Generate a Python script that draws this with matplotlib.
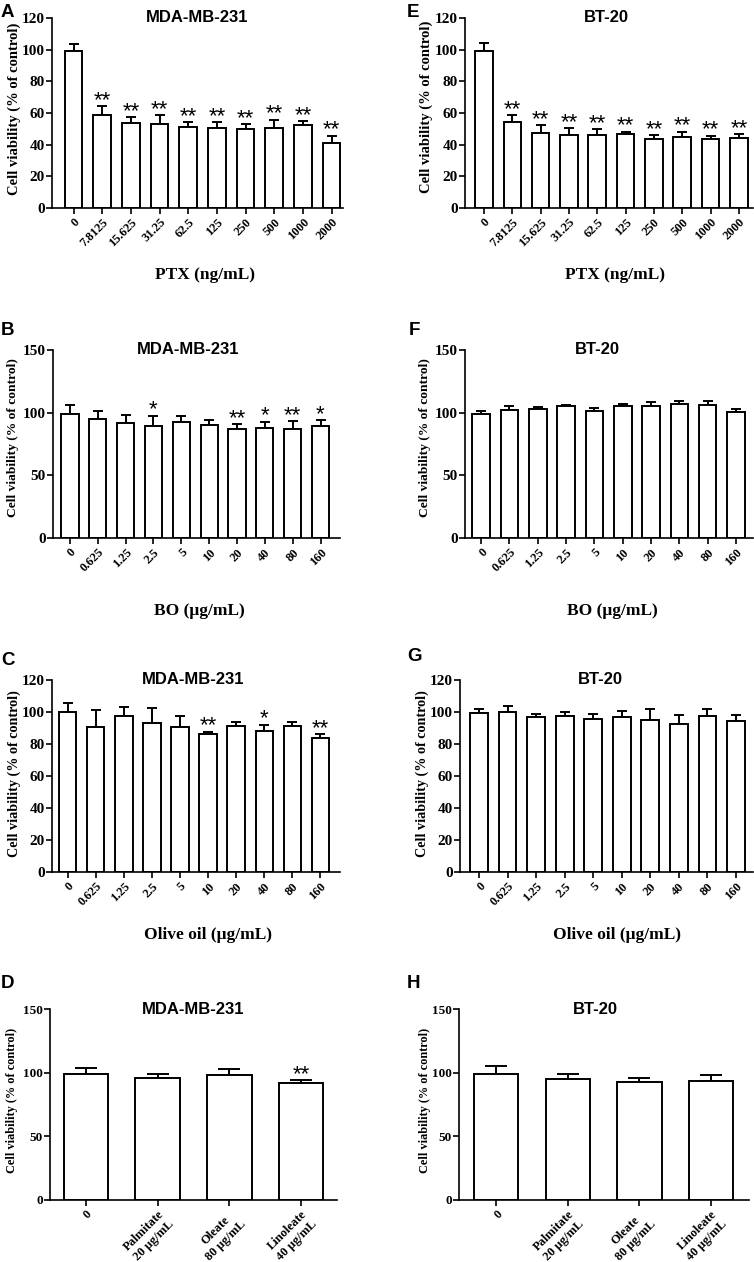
import matplotlib.pyplot as plt
import numpy as np

plt.rcParams['font.family'] = ['Liberation Serif', 'DejaVu Serif']
plt.rcParams['font.weight'] = 'bold'
plt.rcParams['axes.labelweight'] = 'bold'
plt.rcParams['axes.linewidth'] = 1.2

# --- data ---
ptx_doses = ['0', '7.8125', '15.625', '31.25', '62.5', '125', '250', '500', '1000', '2000']
oil_doses = ['0', '0.625', '1.25', '2.5', '5', '10', '20', '40', '80', '160']
fa_labels = ['0', 'Palmitate\n20 μg/mL', 'Oleate\n80 μg/mL', 'Linoleate\n40 μg/mL']

# A: MDA-MB-231, PTX
a_mean = [99.4, 58.5, 53.7, 53.3, 51.2, 50.5, 49.9, 50.7, 52.2, 41.0]
a_err = [4.2, 6.1, 3.6, 5.6, 3.3, 4.0, 3.2, 5.1, 2.7, 4.7]
a_sig = ['', '**', '**', '**', '**', '**', '**', '**', '**', '**']
# E: BT-20, PTX
e_mean = [99.4, 54.1, 47.4, 45.9, 46.3, 46.9, 43.6, 44.8, 43.8, 44.2]
e_err = [4.8, 4.4, 5.0, 4.8, 3.6, 1.3, 2.7, 3.4, 1.9, 2.7]
e_sig = ['', '**', '**', '**', '**', '**', '**', '**', '**', '**']
# B: MDA-MB-231, BO
b_mean = [99.3, 95.0, 91.9, 89.5, 92.4, 90.3, 87.1, 88.1, 87.3, 89.5]
b_err = [6.9, 6.7, 6.1, 8.2, 4.8, 3.7, 3.7, 4.8, 6.1, 4.5]
b_sig = ['', '', '', '*', '', '', '**', '*', '**', '*']
# F: BT-20, BO
f_mean = [99.0, 101.9, 103.0, 105.4, 101.7, 105.1, 105.4, 107.0, 105.9, 100.6]
f_err = [2.7, 3.8, 1.6, 0.8, 2.1, 1.9, 2.9, 2.4, 3.7, 2.4]
f_sig = [''] * 10
# C: MDA-MB-231, olive oil
c_mean = [99.8, 90.4, 97.5, 93.3, 90.6, 86.0, 91.4, 87.9, 91.0, 83.9]
c_err = [6.0, 10.9, 5.6, 9.4, 6.7, 1.7, 2.3, 4.2, 2.7, 2.5]
c_sig = ['', '', '', '', '', '**', '', '*', '', '**']
# G: BT-20, olive oil
g_mean = [99.6, 100.0, 96.9, 97.3, 95.4, 96.7, 95.0, 92.5, 97.7, 94.6]
g_err = [2.3, 3.5, 1.8, 2.9, 3.6, 3.7, 6.9, 5.6, 4.4, 3.3]
g_sig = [''] * 10
# D: MDA-MB-231, fatty acids
d_mean = [99.1, 95.5, 97.8, 91.5]
d_err = [4.5, 3.4, 5.3, 2.7]
d_sig = ['', '', '', '**']
# H: BT-20, fatty acids
h_mean = [99.1, 94.9, 92.3, 93.6]
h_err = [6.3, 4.0, 3.7, 4.5]
h_sig = ['', '', '', '']

W, H = 754, 1262
fig = plt.figure(figsize=(W / 100, H / 100), dpi=100)
SANS = ['Liberation Sans', 'DejaVu Sans']


def add_ax(left, top, right, bottom):
    return fig.add_axes([left / W, 1 - bottom / H, (right - left) / W, (bottom - top) / H])


def panel(ax, labels, mean, err, sig, ymax, ystep, xlim, title, title_x,
          ytick_fs, ylab_fs, ylab_x, ylab_y, cap, star_fs=16, xtick_fs=9):
    x = np.arange(len(mean))
    ax.bar(x, mean, width=0.62, color='white', edgecolor='black', linewidth=1.4, zorder=2)
    ax.errorbar(x, mean, yerr=[np.zeros(len(err)), err], fmt='none', ecolor='black',
                elinewidth=1.4, capsize=cap, capthick=1.4, zorder=1)
    for xi, m, e, s in zip(x, mean, err, sig):
        if s:
            ax.annotate(s, (xi, m + e), xytext=(0, 0), textcoords='offset points',
                        ha='center', va='baseline', fontsize=star_fs,
                        family=SANS, fontweight='normal')
    ax.set_ylim(0, ymax)
    ax.set_yticks(np.arange(0, ymax + 1, ystep))
    ax.set_yticklabels([str(v) for v in np.arange(0, ymax + 1, ystep)],
                       fontsize=ytick_fs, fontweight='bold')
    ax.set_xlim(*xlim)
    ax.set_xticks(x)
    ax.set_xticklabels(labels, rotation=45, ha='right', rotation_mode='anchor',
                       fontsize=xtick_fs, fontweight='bold', multialignment='center',
                       linespacing=1.25)
    ax.tick_params(axis='y', width=1.2, length=4, pad=1)
    ax.tick_params(axis='x', width=1.2, length=4, pad=2)
    for sp in ['top', 'right']:
        ax.spines[sp].set_visible(False)
    ax.set_ylabel('Cell viability (% of control)', fontsize=ylab_fs, fontweight='bold')
    ax.yaxis.set_label_coords(ylab_x, ylab_y)
    ax.text(title_x, 1.0, title, transform=ax.transAxes, ha='center', va='center',
            fontsize=12, family=SANS, fontweight='bold')


def xlabel(ax, text, x, y):
    ax.set_xlabel(text, fontsize=12.5, fontweight='bold')
    ax.xaxis.set_label_coords(x, y)


def letter(text, x, y):
    fig.text(x / W, 1 - y / H, text, ha='left', va='top', fontsize=13.5,
             family=SANS, fontweight='bold')


# row 1: PTX
axA = add_ax(52, 18, 343, 208)
panel(axA, ptx_doses, a_mean, a_err, a_sig, 120, 20, (-0.75, 9.4), 'MDA-MB-231', 0.5,
      11, 10.5, -0.105, 0.52, 3.5)
xlabel(axA, 'PTX (ng/mL)', 0.526, -0.31)
axE = add_ax(465, 18, 753, 208)
panel(axE, ptx_doses, e_mean, e_err, e_sig, 120, 20, (-0.67, 9.5), 'BT-20', 0.49,
      11, 10.5, -0.112, 0.53, 3.5)
xlabel(axE, 'PTX (ng/mL)', 0.52, -0.31)

# row 2: BO
axB = add_ax(53, 350, 340, 538)
panel(axB, oil_doses, b_mean, b_err, b_sig, 150, 50, (-0.61, 9.7), 'MDA-MB-231', 0.47,
      11, 9.7, -0.118, 0.535, 3.5)
xlabel(axB, 'BO (μg/mL)', 0.51, -0.345)
axF = add_ax(465, 350, 753, 538)
panel(axF, oil_doses, f_mean, f_err, f_sig, 150, 50, (-0.57, 9.6), 'BT-20', 0.46,
      11, 9.7, -0.118, 0.535, 3.5)
xlabel(axF, 'BO (μg/mL)', 0.51, -0.345)

# row 3: olive oil
axC = add_ax(52, 680, 340, 872)
panel(axC, oil_doses, c_mean, c_err, c_sig, 120, 20, (-0.56, 9.7), 'MDA-MB-231', 0.49,
      11, 10.2, -0.108, 0.515, 3.5)
xlabel(axC, 'Olive oil (μg/mL)', 0.54, -0.286)
axG = add_ax(460, 680, 753, 872)
panel(axG, oil_doses, g_mean, g_err, g_sig, 120, 20, (-0.67, 9.6), 'BT-20', 0.48,
      11, 10.2, -0.106, 0.515, 3.5)
xlabel(axG, 'Olive oil (μg/mL)', 0.536, -0.286)

# row 4: fatty acids
axD = add_ax(50, 1009, 337, 1200)
panel(axD, fa_labels, d_mean, d_err, d_sig, 150, 50, (-0.5, 3.5), 'MDA-MB-231', 0.5,
      9.5, 8.8, -0.11, 0.52, 8)
axH = add_ax(459, 1009, 749, 1200)
panel(axH, fa_labels, h_mean, h_err, h_sig, 150, 50, (-0.52, 3.53), 'BT-20', 0.47,
      9.5, 8.8, -0.096, 0.52, 8)

letter('A', 1, 4)
letter('E', 407, 4)
letter('B', 1, 322)
letter('F', 409, 322)
letter('C', 1, 652)
letter('G', 407, 648)
letter('D', 1, 975)
letter('H', 407, 975)

fig.savefig('out.png', dpi=100, facecolor='white')
